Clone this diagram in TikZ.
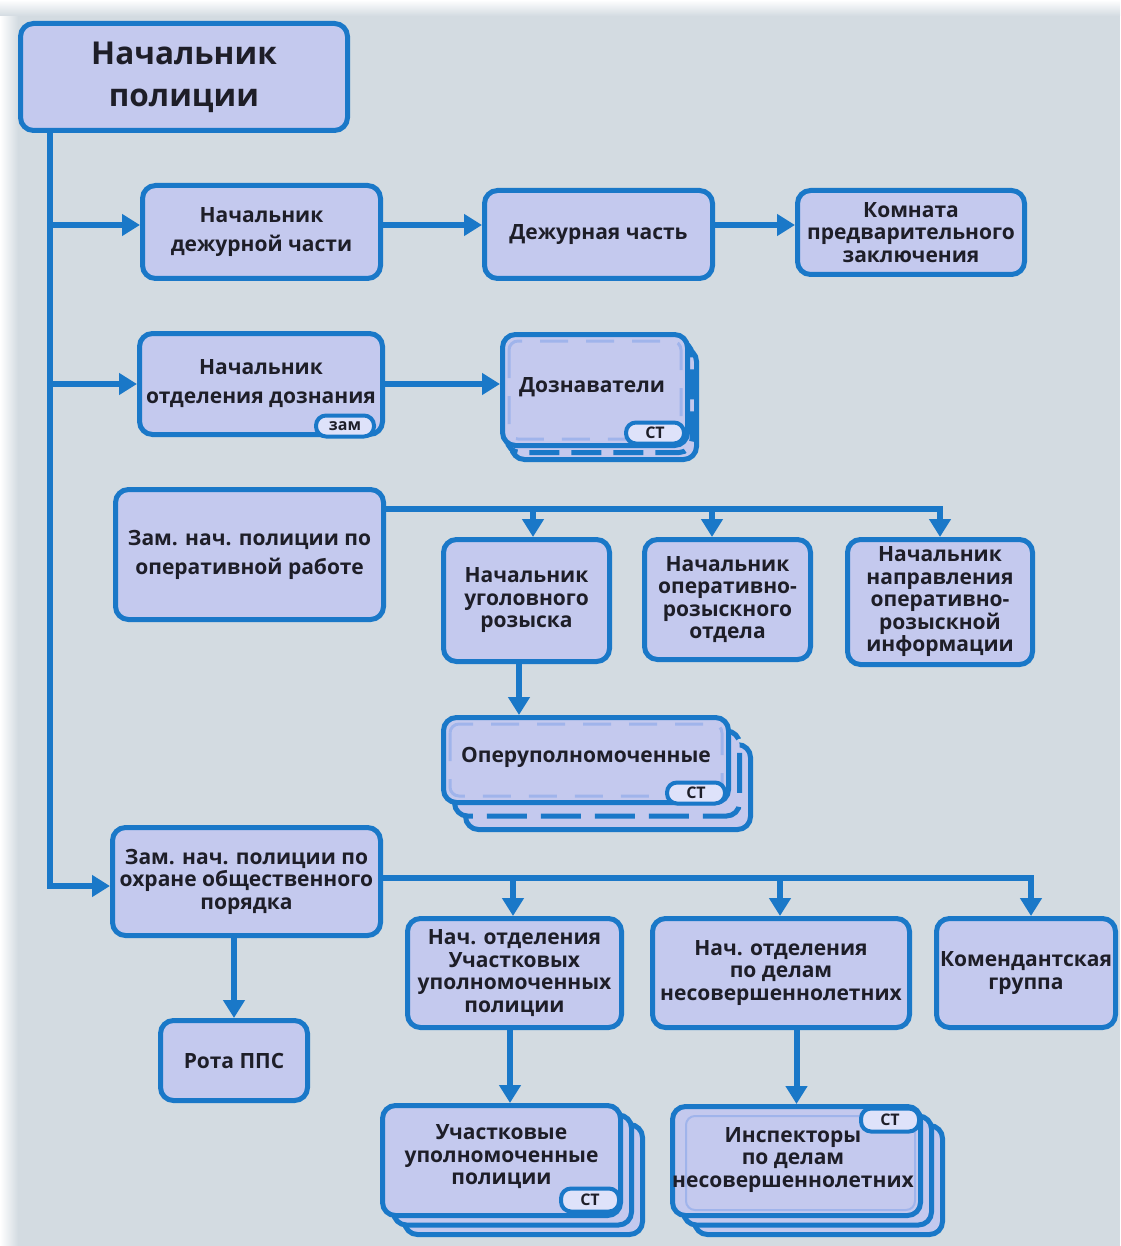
\documentclass[tikz,border=0pt]{standalone}
\usepackage{fontspec}
\setmainfont{Open Sans}
\usetikzlibrary{arrows.meta,calc}
\definecolor{bg}{RGB}{211,219,225}
\definecolor{bfill}{RGB}{196,201,238}
\definecolor{bline}{RGB}{26,120,200}
\definecolor{tfill}{RGB}{222,226,250}
\definecolor{txt}{RGB}{30,30,40}
\definecolor{dashc}{RGB}{160,180,235}
\tikzset{
 box/.style={draw=bline, fill=bfill, line width=5pt, rounded corners=13pt, inner sep=0pt, align=center, text=txt, font=\fontsize{21}{22.5}\selectfont\bfseries},
 layer/.style={draw=bline, fill=bfill, line width=5pt, rounded corners=13pt, inner sep=0pt},
 conn/.style={draw=bline, line width=6pt},
 arr/.style={conn, -{Triangle[length=18pt,width=21pt]}},
 tag/.style={draw=bline, fill=tfill, line width=4pt, rounded corners=10pt, inner sep=0pt, minimum height=21pt, minimum width=58pt, text=txt, font=\fontsize{16}{16}\selectfont\bfseries},
 ghost/.style={draw=dashc, line width=3pt, rounded corners=9pt, dash pattern=on 28pt off 18pt},
 ls22/.style={font=\fontsize{21}{22.5}\selectfont\bfseries},
 ls28/.style={font=\fontsize{21}{29}\selectfont\bfseries},
}
\begin{document}
\begin{tikzpicture}[x=1pt,y=-1pt]
\useasboundingbox (0,0) rectangle (1120,1246);
\fill[bg] (0,0) rectangle (1120,1246);
\shade[left color=white, right color=bg] (0,0) rectangle (18,1246);
\shade[top color=white, bottom color=bg] (0,0) rectangle (1120,16);

% row 0
\node[box, minimum width=327pt, minimum height=107pt, font=\fontsize{31.5}{42}\selectfont\bfseries] (chief) at (184,77) {Начальник\\полиции};

% row 1
\node[box, ls28, minimum width=238pt, minimum height=93pt] (dutyhead) at (261.5,232) {Начальник\\дежурной части};
\node[box, minimum width=228pt, minimum height=88pt] (duty) at (598.5,234.5) {Дежурная часть};
\node[box, ls22, minimum width=227pt, minimum height=84pt] (kpz) at (911,232.5) {Комната\\предварительного\\заключения};

% row 2
\node[box, ls28, minimum width=243pt, minimum height=101pt] (inqhead) at (261,384) {Начальник\\отделения дознания};
\node[tag] (tagzam) at (345,426) {зам};
\node[layer, minimum width=185pt, minimum height=111pt] (inqB2) at (604,404) {};
\node[layer, dash pattern=on 30pt off 12pt, minimum width=185pt, minimum height=111pt] (inqB1) at (599.5,397) {};
\node[box, minimum width=185pt, minimum height=111pt] (inq) at (595,390) {};
\draw[ghost] ($(inq.north west)+(9,9)$) rectangle ($(inq.south east)+(-9,-9)$);
\node[box, fill=none, draw=none] (inqtext) at (592,387) {Дознаватели};
\node[tag] (taginq) at (655,433) {СТ};

% row 3
\node[box, ls28, minimum width=268pt, minimum height=130pt] (opdep) at (249.5,554.5) {Зам. нач. полиции по\\оперативной работе};
\node[box, ls22, minimum width=166pt, minimum height=122pt] (crimhead) at (526.5,600.5) {Начальник\\уголовного\\розыска};
\node[box, ls22, minimum width=166pt, minimum height=120pt] (ordhead) at (727.5,599.5) {Начальник\\оперативно-\\розыскного\\отдела};
\node[box, ls22, minimum width=185pt, minimum height=125pt] (infohead) at (940,602) {Начальник\\направления\\оперативно-\\розыскной\\информации};

\node[layer, minimum width=285pt, minimum height=85pt] (opersB2) at (608,787) {};
\node[layer, dash pattern=on 40pt off 14pt, minimum width=285pt, minimum height=85pt] (opersB1) at (597,773.5) {};
\node[box, minimum width=285pt, minimum height=85pt] (opers) at (586,760) {};
\draw[ghost] ($(opers.north west)+(9,9)$) rectangle ($(opers.south east)+(-9,-9)$);
\node[box, fill=none, draw=none] (operstext) at (586,757) {Оперуполномоченные};
\node[tag] (tagopers) at (696,793) {СТ};

% row 4
\node[box, ls22, minimum width=268pt, minimum height=108pt] (pubdep) at (246.5,881.5) {Зам. нач. полиции по\\охране общественного\\порядка};
\node[box, minimum width=147pt, minimum height=80pt] (pps) at (234,1060.5) {Рота ППС};
\node[box, ls22, minimum width=214pt, minimum height=109pt] (uuphead) at (514.5,973) {Нач. отделения\\Участковых\\уполномоченных\\полиции};
\node[box, ls22, minimum width=257pt, minimum height=109pt] (minorhead) at (781,973) {Нач. отделения\\по делам\\несовершеннолетних};
\node[box, ls22, minimum width=179pt, minimum height=109pt] (komend) at (1026,973) {Комендантская\\группа};

% row 5
\node[layer, minimum width=238pt, minimum height=110pt] (uupB2) at (523.5,1179.5) {};
\node[layer, minimum width=238pt, minimum height=110pt] (uupB1) at (512.5,1170) {};
\node[box, ls22, minimum width=238pt, minimum height=110pt] (uup) at (501.5,1160.5) {};
\node[box, ls22, fill=none, draw=none] (uuptext) at (501.5,1157) {Участковые\\уполномоченные\\полиции};
\node[tag, minimum height=23pt] (taguup) at (590,1200) {СТ};

\node[layer, minimum width=248pt, minimum height=109pt] (inspB2) at (818.5,1180) {};
\node[layer, minimum width=248pt, minimum height=109pt] (inspB1) at (807.5,1170.5) {};
\node[box, minimum width=248pt, minimum height=109pt] (insp) at (796.5,1161) {};
\draw[draw=dashc, line width=2pt, rounded corners=9pt] ($(insp.north west)+(16,12)$) rectangle ($(insp.south east)+(-8,-8)$);
\node[box, ls22, fill=none, draw=none] (insptext) at (793,1160) {Инспекторы\\по делам\\несовершеннолетних};
\node[tag, minimum height=23pt] (taginsp) at (890,1120) {СТ};

% connectors
\coordinate (T) at (50,0);
\draw[arr] (chief.south -| T) |- ([yshift=-4.5pt]pubdep.west);
\draw[arr] ([yshift=7pt]dutyhead.west -| T) -- ([yshift=7pt]dutyhead.west);
\draw[arr] (inqhead.west -| T) -- (inqhead.west);
\draw[arr] ([yshift=7pt]dutyhead.east) -- ([yshift=7pt]dutyhead.east -| duty.west);
\draw[arr] ([yshift=9.5pt]duty.east) -- ([yshift=9.5pt]duty.east -| kpz.west);
\draw[arr] (inqhead.east) -- (inqhead.east -| inq.west);

\draw[arr] ([yshift=45.5pt]opdep.east) -| ([xshift=6.5pt]crimhead.north);
\draw[arr] ([yshift=45.5pt]opdep.east) -| ([xshift=-15.5pt]ordhead.north);
\draw[arr] ([yshift=45.5pt]opdep.east) -| (infohead.north);
\draw[arr] ([xshift=-7.5pt]crimhead.south) -- ([xshift=-7.5pt]crimhead.south |- opers.north);

\draw[arr] ([yshift=3.5pt]pubdep.east) -| ([xshift=-1.5pt]uuphead.north);
\draw[arr] ([yshift=3.5pt]pubdep.east) -| ([xshift=-1pt]minorhead.north);
\draw[arr] ([yshift=3.5pt]pubdep.east) -| ([xshift=5pt]komend.north);
\draw[arr] (pps.north |- pubdep.south) -- (pps.north);
\draw[arr] ([xshift=-4.5pt]uuphead.south) -- ([xshift=-4.5pt]uuphead.south |- uup.north);
\draw[arr] (insp.north |- minorhead.south) -- (insp.north);
\end{tikzpicture}
\end{document}
